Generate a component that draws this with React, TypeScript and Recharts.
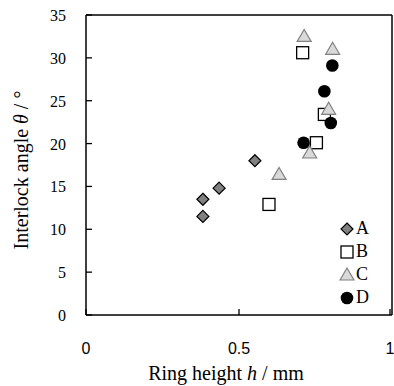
import React from "react";
import {
  ScatterChart,
  Scatter,
  XAxis,
  YAxis,
  ReferenceLine,
  Legend,
} from "recharts";

// Ring height h (mm) and interlock angle θ (°) per group
const aHeight = [0.382, 0.382, 0.435, 0.552];
const aAngle = [13.5, 11.5, 14.8, 18.0];

const bHeight = [0.598, 0.708, 0.753, 0.779];
const bAngle = [12.9, 30.6, 20.1, 23.4];

const cHeight = [0.631, 0.713, 0.731, 0.793, 0.806];
const cAngle = [16.4, 32.5, 18.9, 24.0, 31.0];

const dHeight = [0.711, 0.779, 0.8, 0.805];
const dAngle = [20.1, 26.1, 22.4, 29.1];

const seriesNames = ["A", "B", "C", "D"];
const xTicks = [0, 0.5, 1];
const yTicks = [0, 5, 10, 15, 20, 25, 30, 35];

const toPoints = (xs: number[], ys: number[]) =>
  xs.map((x, i) => ({ x, y: ys[i] }));

const serif = "'Liberation Serif', 'Times New Roman', serif";
const sans = "'Liberation Sans', Arial, sans-serif";

const Diamond = ({ cx, cy }: any) => (
  <polygon
    points={`${cx},${cy - 6} ${cx + 6},${cy} ${cx},${cy + 6} ${cx - 6},${cy}`}
    fill="#808080"
    stroke="#000"
    strokeWidth={1.2}
  />
);

const Square = ({ cx, cy }: any) => (
  <rect x={cx - 6} y={cy - 6} width={12} height={12} fill="#fff" stroke="#000" strokeWidth={1.3} />
);

const Triangle = ({ cx, cy }: any) => (
  <polygon
    points={`${cx},${cy - 7} ${cx + 7},${cy + 5} ${cx - 7},${cy + 5}`}
    fill="#d9d9d9"
    stroke="#808080"
    strokeWidth={1.2}
  />
);

const Circle = ({ cx, cy }: any) => <circle cx={cx} cy={cy} r={6.3} fill="#000" />;

const shapes = [Diamond, Square, Triangle, Circle];

const XTick = ({ x, y, payload }: any) => (
  <g>
    <line x1={x} y1={y} x2={x} y2={y - 6} stroke="#000" strokeWidth={1.3} />
    <text x={x} y={y + 39} textAnchor="middle" fontFamily={sans} fontSize={16} fill="#000">
      {payload.value}
    </text>
  </g>
);

const YTick = ({ x, y, payload }: any) => (
  <g>
    <line x1={x} y1={y} x2={x + 6} y2={y} stroke="#000" strokeWidth={1.3} />
    <text x={x - 20} y={y + 6} textAnchor="end" fontFamily={serif} fontSize={16} fill="#000">
      {payload.value}
    </text>
  </g>
);

const LegendBox = () => (
  <div style={{ fontFamily: serif, fontSize: 18, color: "#000" }}>
    {seriesNames.map((name, i) => {
      const Shape = shapes[i];
      return (
        <div key={name} style={{ display: "flex", alignItems: "center", height: 23 }}>
          <svg width={16} height={16} style={{ marginRight: 1 }}>
            <Shape cx={8} cy={8} />
          </svg>
          <span>{name}</span>
        </div>
      );
    })}
  </div>
);

export default function App() {
  return (
    <div style={{ position: "absolute", left: 0, top: 0, background: "#fff" }}>
      <ScatterChart
        width={394}
        height={386}
        margin={{ top: 15, right: 2, bottom: 0, left: 0 }}
      >
        <XAxis
          type="number"
          dataKey="x"
          domain={[0, 1]}
          ticks={xTicks}
          height={71}
          tickSize={0}
          tickMargin={0}
          tickLine={false}
          tick={<XTick />}
          axisLine={{ stroke: "#000", strokeWidth: 1.5 }}
          label={{
            content: () => (
              <text x={226} y={380} textAnchor="middle" fontFamily={serif} fontSize={20} fill="#000">
                Ring height <tspan fontStyle="italic">h</tspan> / mm
              </text>
            ),
          }}
        />
        <YAxis
          type="number"
          dataKey="y"
          domain={[0, 35]}
          ticks={yTicks}
          width={86}
          tickSize={0}
          tickMargin={0}
          tickLine={false}
          tick={<YTick />}
          axisLine={{ stroke: "#000", strokeWidth: 1.5 }}
          label={{
            content: () => (
              <text
                x={28}
                y={170}
                transform="rotate(-90 28 170)"
                textAnchor="middle"
                fontFamily={serif}
                fontSize={20}
                fill="#000"
              >
                Interlock angle <tspan fontStyle="italic">θ</tspan> / °
              </text>
            ),
          }}
        />
        <ReferenceLine y={35} stroke="#000" strokeWidth={1.5} />
        <ReferenceLine x={1} stroke="#000" strokeWidth={1.5} />
        <Legend
          layout="vertical"
          align="center"
          verticalAlign="middle"
          content={<LegendBox />}
          wrapperStyle={{ left: 339, top: 217, width: "auto" }}
        />
        <Scatter name="A" data={toPoints(aHeight, aAngle)} shape={<Diamond />} isAnimationActive={false} />
        <Scatter name="B" data={toPoints(bHeight, bAngle)} shape={<Square />} isAnimationActive={false} />
        <Scatter name="C" data={toPoints(cHeight, cAngle)} shape={<Triangle />} isAnimationActive={false} />
        <Scatter name="D" data={toPoints(dHeight, dAngle)} shape={<Circle />} isAnimationActive={false} />
      </ScatterChart>
    </div>
  );
}
